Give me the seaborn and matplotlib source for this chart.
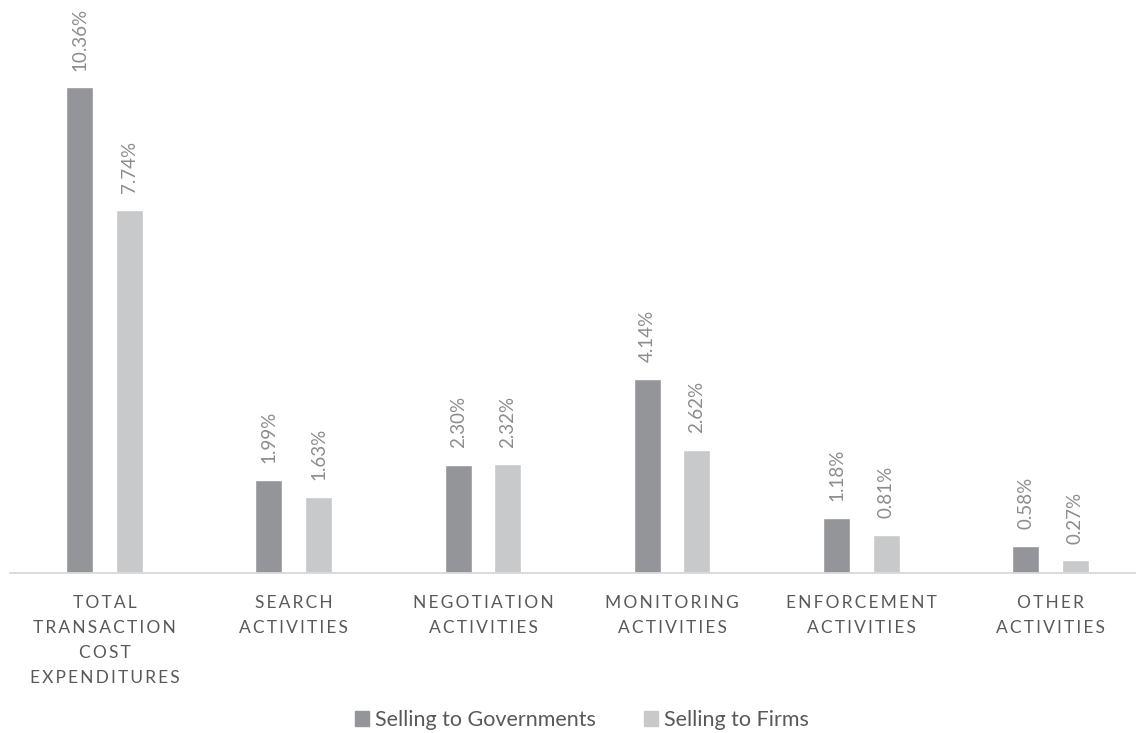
import matplotlib
matplotlib.use("Agg")
import matplotlib.pyplot as plt
import seaborn as sns
import pandas as pd

categories = [
    "TOTAL\nTRANSACTION\nCOST\nEXPENDITURES",
    "SEARCH\nACTIVITIES",
    "NEGOTIATION\nACTIVITIES",
    "MONITORING\nACTIVITIES",
    "ENFORCEMENT\nACTIVITIES",
    "OTHER\nACTIVITIES",
]
series_names = ["Selling to Governments", "Selling to Firms"]
governments = [10.36, 1.99, 2.30, 4.14, 1.18, 0.58]
firms = [7.74, 1.63, 2.32, 2.62, 0.81, 0.27]
colors = ["#939598", "#c8c9cb"]

sns.set_theme(style="white")
plt.rcParams["font.family"] = ["Lato", "DejaVu Sans"]

df = pd.DataFrame({
    "category": categories * 2,
    "series": [series_names[0]] * len(categories) + [series_names[1]] * len(categories),
    "value": governments + firms,
})

W, H = 1136, 733
fig = plt.figure(figsize=(W / 100, H / 100), dpi=100)
ax = fig.add_axes([10 / W, 160 / H, 1126 / W, 573 / H])

sns.barplot(data=df, x="category", y="value", hue="series", order=categories,
            hue_order=series_names, palette=colors, width=0.524, gap=0.455,
            saturation=1, legend=False, ax=ax)

for cont in ax.containers:
    ax.bar_label(cont, labels=[f"{v:.2f}%" for v in cont.datavalues],
                 rotation=90, padding=12, fontsize=13.5, color="#8c8c8c")

ax.set_xlim(-0.5, 5.452)
ax.set_ylim(0, 12.22)
ax.set_xlabel("")
ax.set_ylabel("")
ax.set_yticks([])

def spaced(label):
    return "\n".join("\u2009".join(line) for line in label.split("\n"))

ax.set_xticks(range(len(categories)))
ax.set_xticklabels([spaced(c) for c in categories], fontsize=12.5,
                   color="#595959", linespacing=1.68, va="top")
ax.tick_params(axis="x", length=0, pad=16)

for side in ["top", "left", "right"]:
    ax.spines[side].set_visible(False)
ax.spines["bottom"].set_color("#d9d9d9")
ax.spines["bottom"].set_linewidth(1.3)

handles = [plt.Rectangle((0, 0), 1, 1, color=c) for c in colors]
fig.legend(handles, series_names, loc="center", ncol=2,
           bbox_to_anchor=(582 / W, 1 - 720 / H), frameon=False,
           fontsize=15.5, labelcolor="#595959", handlelength=0.65,
           handleheight=0.65, handletextpad=0.3, columnspacing=2.2)

fig.savefig("out.png", dpi=100)
